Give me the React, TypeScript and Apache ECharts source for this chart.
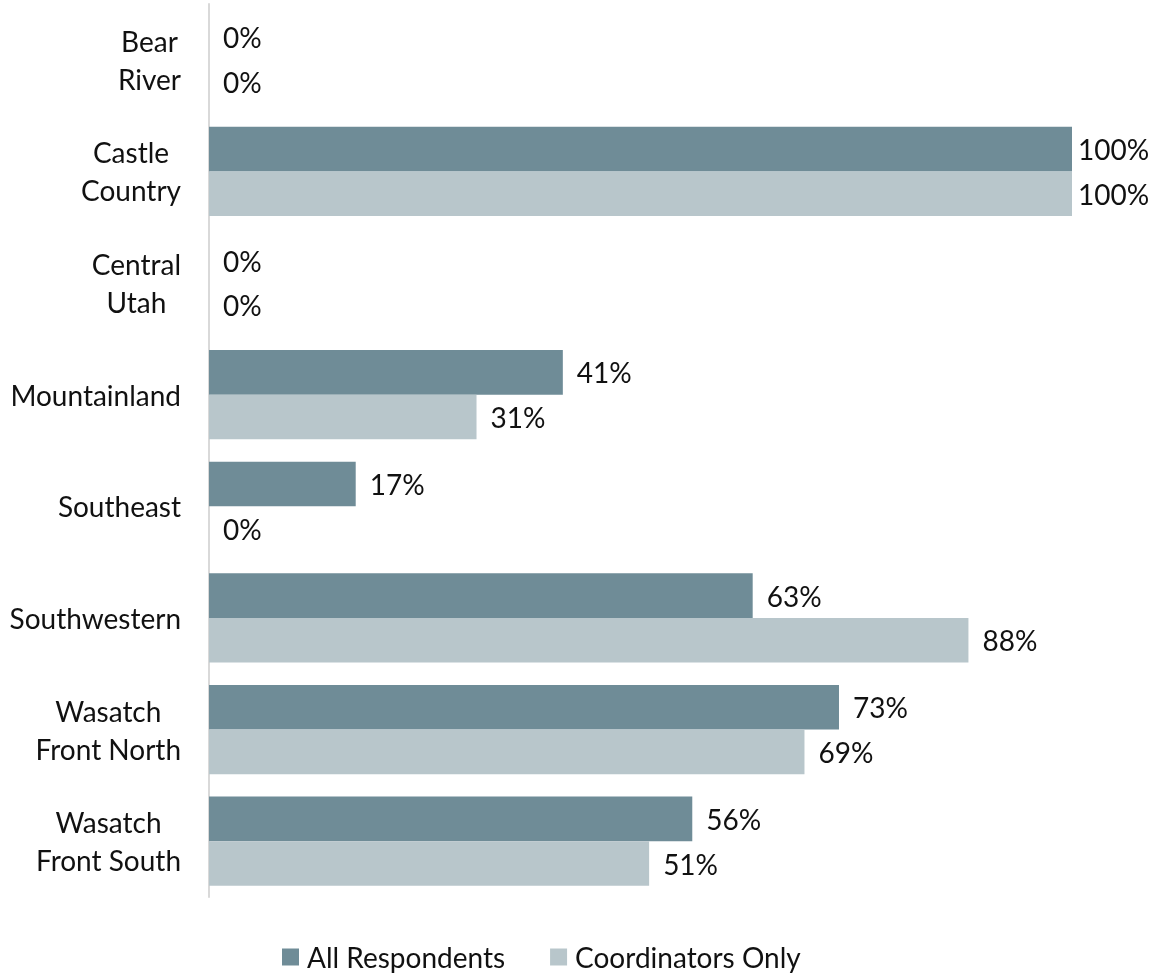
import React, { useEffect, useRef } from "react";
import * as echarts from "echarts";

const categories = [
  "Bear\nRiver",
  "Castle\nCountry",
  "Central\nUtah",
  "Mountainland",
  "Southeast",
  "Southwestern",
  "Wasatch\nFront North",
  "Wasatch\nFront South",
];
const allRespondents = [0, 100, 0, 41, 17, 63, 73, 56];
const coordinatorsOnly = [0, 100, 0, 31, 0, 88, 69, 51];
const seriesNames = ["All Respondents", "Coordinators Only"];
const colors = ["#6f8c97", "#b8c6cb"];

const FONT = "Lato, 'Noto Sans', sans-serif";
const FS = 28;

export default function App() {
  const ref = useRef<HTMLDivElement>(null);
  useEffect(() => {
    if (!ref.current) return;
    const chart = echarts.init(ref.current, undefined, { renderer: "svg" });
    const mkData = (arr: number[]) =>
      arr.map((v) => ({
        value: v,
        label: { distance: v >= 100 ? 6 : 14 },
      }));
    const mkSeries = (name: string, arr: number[], color: string) => ({
      name,
      type: "bar",
      data: mkData(arr),
      barGap: "0%",
      barCategoryGap: "20%",
      itemStyle: { color },
      label: {
        show: true,
        position: "right",
        formatter: (p: any) => `${p.value}%`,
        color: "#111",
        fontFamily: FONT,
        fontSize: FS,
      },
    });
    chart.setOption({
      animation: false,
      textStyle: { fontFamily: FONT },
      grid: { left: 209, right: 86, top: 4, bottom: 79, containLabel: false },
      xAxis: {
        type: "value",
        min: 0,
        max: 100,
        show: false,
      },
      yAxis: {
        type: "category",
        data: categories,
        inverse: true,
        axisLine: { show: true, lineStyle: { color: "#d9d9d9", width: 2 } },
        axisTick: { show: false },
        axisLabel: {
          margin: 28,
          color: "#111",
          fontFamily: FONT,
          fontSize: FS,
          lineHeight: 38,
          formatter: (v: string) =>
            v
              .split("\n")
              .map((l) => `{c|${l}}`)
              .join("\n"),
          rich: {
            c: {
              align: "center",
              color: "#111",
              fontFamily: FONT,
              fontSize: FS,
              lineHeight: 38,
            },
          },
        },
      },
      legend: {
        left: 277,
        top: 938,
        icon: "rect",
        itemWidth: 17,
        itemHeight: 17,
        itemGap: 45,
        textStyle: {
          color: "#111",
          fontFamily: FONT,
          fontSize: FS,
          padding: [0, 0, 0, 3],
        },
        data: seriesNames,
      },
      series: [
        mkSeries(seriesNames[0], allRespondents, colors[0]),
        mkSeries(seriesNames[1], coordinatorsOnly, colors[1]),
      ],
    });
    return () => chart.dispose();
  }, []);
  return (
    <div
      ref={ref}
      style={{ position: "fixed", left: 0, top: 0, width: 1158, height: 976 }}
    />
  );
}
